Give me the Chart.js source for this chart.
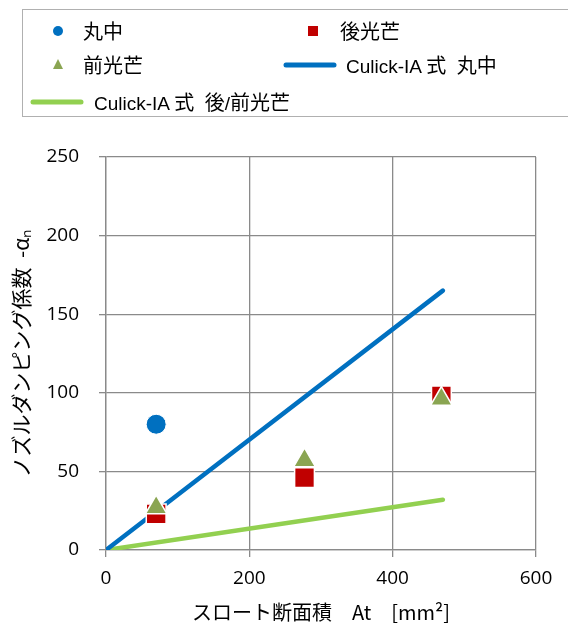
<!DOCTYPE html>
<html>
<head>
<meta charset="utf-8">
<script src="https://cdn.jsdelivr.net/npm/chart.js@4"></script>
<style>
  html, body { margin: 0; padding: 0; background: #fff; }
  #wrap { position: relative; width: 568px; height: 624px; }
  #legend {
    position: absolute; left: 22px; top: 9px; width: 560px; height: 108px;
    border: 1px solid #b0b0b0; box-sizing: border-box;
    font-family: "Liberation Sans", "Noto Sans CJK JP", sans-serif; font-size: 19px; color: #000;
  }
  .item { position: absolute; line-height: 26px; white-space: pre; }
  .jp { font-family: "Noto Sans CJK JP", sans-serif; font-size: 20px; }
</style>
</head>
<body>
<div id="wrap">
  <canvas id="c" width="568" height="624"></canvas>
  <div id="legend"></div>
</div>
<script>
// Measured series
const roundX = [70];
const roundY = [80];
const rearX = [70, 277, 468];
const rearY = [23, 46, 98];
const frontX = [70, 277, 468];
const frontY = [27, 57, 96];
// Culick-IA model lines (end points)
const culickRoundX = [0, 470];
const culickRoundY = [0, 165];
const culickFrontRearX = [0, 470];
const culickFrontRearY = [0, 32];

const xTicks = [0, 200, 400, 600];
const yTicks = [0, 50, 100, 150, 200, 250];

const pts = (xs, ys) => xs.map((x, i) => ({ x: x, y: ys[i] }));

const BLUE = '#0070C0', RED = '#C00000', OLIVE = '#8AA552', LIME = '#92D050';

const chart = new Chart(document.getElementById('c'), {
  type: 'scatter',
  data: {
    datasets: [
      { label: '丸中', data: pts(roundX, roundY), pointStyle: 'circle', pointRadius: 10,
        backgroundColor: BLUE, borderColor: '#fff', borderWidth: 1, order: 1 },
      { label: '後光芒', data: pts(rearX, rearY), pointStyle: 'rect', pointRadius: 14,
        backgroundColor: RED, borderColor: '#fff', borderWidth: 1.5, order: 2 },
      { label: '前光芒', data: pts(frontX, frontY), pointStyle: 'triangle', pointRadius: 12.5,
        backgroundColor: OLIVE, borderColor: '#fff', borderWidth: 1.5, order: 1 },
      { type: 'line', label: 'Culick-IA 式  丸中', data: pts(culickRoundX, culickRoundY),
        borderColor: BLUE, borderWidth: 4.5, pointRadius: 0, borderCapStyle: 'round', order: 3 },
      { type: 'line', label: 'Culick-IA 式  後/前光芒', data: pts(culickFrontRearX, culickFrontRearY),
        borderColor: LIME, borderWidth: 4.5, pointRadius: 0, borderCapStyle: 'round', order: 3 }
    ]
  },
  options: {
    responsive: false,
    animation: false,
    layout: { padding: { top: 157, right: 32, left: 0, bottom: 0 } },
    plugins: { legend: { display: false }, tooltip: { enabled: false } },
    scales: {
      x: {
        type: 'linear', min: 0, max: 600,
        afterBuildTicks: s => { s.ticks = xTicks.map(v => ({ value: v })); },
        afterFit: s => { s.height = 74; },
        grid: { color: '#8a8a8a', lineWidth: 1.3, tickLength: 7, drawTicks: true },
        border: { color: '#8a8a8a', width: 1.3 },
        ticks: { color: '#000', padding: 10, font: { family: 'Open Sans', size: 19 } },
        title: { display: true, text: 'スロート断面積　At　[mm²]', color: '#000', padding: { top: 0, bottom: 0 },
          font: { family: 'Noto Sans CJK JP', size: 20 } }
      },
      y: {
        type: 'linear', min: 0, max: 250,
        afterBuildTicks: s => { s.ticks = yTicks.map(v => ({ value: v })); },
        afterFit: s => { s.width = 106; },
        grid: { color: '#8a8a8a', lineWidth: 1.3, tickLength: 7 },
        border: { color: '#8a8a8a', width: 1.3 },
        ticks: { color: '#000', padding: 20, font: { family: 'Open Sans', size: 19 } },
        title: { display: true, text: 'ノズルダンピング係数  -αₙ', color: '#000', padding: { top: 8, bottom: 0 },
          font: { family: 'Noto Sans CJK JP', size: 21 } }
      }
    }
  }
});

// Legend built from the chart's datasets, laid out in two columns
const legendPos = [
  { left: 25, top: 8, textLeft: 60, mark: 'circle' },
  { left: 280, top: 8, textLeft: 317, mark: 'rect' },
  { left: 25, top: 42, textLeft: 60, mark: 'triangle' },
  { left: 260, top: 42, textLeft: 323, mark: 'line' },
  { left: 7, top: 79, textLeft: 71, mark: 'line' }
];
const legend = document.getElementById('legend');
chart.data.datasets.forEach((ds, i) => {
  const p = legendPos[i];
  const sw = document.createElement('canvas');
  const w = p.mark === 'line' ? 54 : 20;
  sw.width = w; sw.height = 26;
  sw.style.position = 'absolute';
  sw.style.left = p.left + 'px'; sw.style.top = p.top + 'px';
  const g = sw.getContext('2d');
  if (p.mark === 'line') {
    g.strokeStyle = ds.borderColor; g.lineWidth = 5; g.lineCap = 'round';
    g.beginPath(); g.moveTo(3, 13); g.lineTo(w - 3, 13); g.stroke();
  } else {
    g.fillStyle = ds.backgroundColor;
    g.beginPath();
    if (p.mark === 'circle') g.arc(10, 13, 5, 0, Math.PI * 2);
    else if (p.mark === 'rect') g.rect(5, 8, 10, 10);
    else { g.moveTo(10, 7); g.lineTo(15, 17); g.lineTo(5, 17); g.closePath(); }
    g.fill();
  }
  legend.appendChild(sw);
  const t = document.createElement('div');
  t.className = 'item';
  t.style.left = p.textLeft + 'px'; t.style.top = p.top + 'px';
  t.innerHTML = ds.label.replace(/([^\x00-\x7f]+)/g, '<span class="jp">$1</span>');
  legend.appendChild(t);
});
</script>
</body>
</html>
